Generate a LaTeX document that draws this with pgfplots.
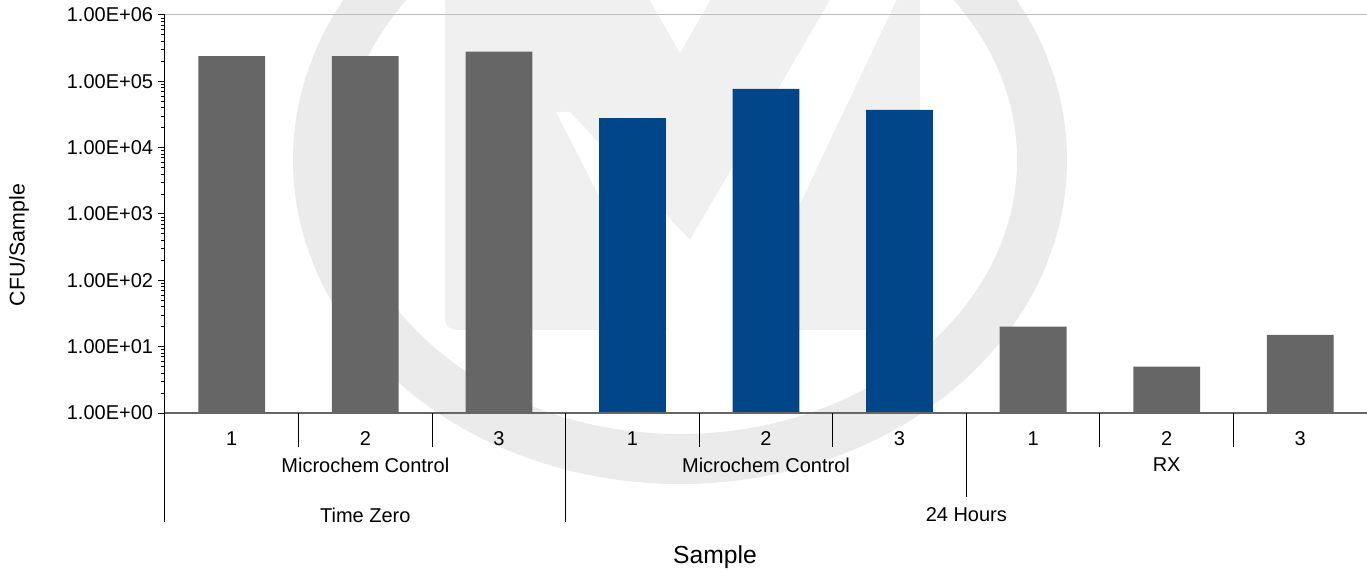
\documentclass[border=0pt]{standalone}
\usepackage{fontspec}
\setmainfont{Liberation Sans}
\usepackage{pgfplots}
\pgfplotsset{compat=1.18}

\definecolor{bargray}{RGB}{102,102,102}
\definecolor{barblue}{RGB}{0,70,136}
\definecolor{framegray}{RGB}{190,190,190}
\definecolor{wring}{RGB}{235,235,235}
\definecolor{wsquare}{RGB}{240,240,240}

\pgfdeclarelayer{background}
\pgfsetlayers{background,main}

% 1 px of the reference = 0.75pt
\newcommand{\lbl}{\fontsize{15}{18}\selectfont}

\begin{document}
\begin{tikzpicture}
\begin{axis}[
    scale only axis,
    width=901.5pt, height=298.5pt,
    xmin=0.5, xmax=9.5,
    ymode=log, ymin=1, ymax=1e6,
    axis line style={draw=none},
    xtick=\empty,
    ytick={1,10,100,1000,10000,100000,1000000},
    yticklabels={1.00E+00,1.00E+01,1.00E+02,1.00E+03,1.00E+04,1.00E+05,1.00E+06},
    ytick pos=left,
    tick align=outside,
    major tick length=5.25pt,
    minor tick num=0,
    y tick style={black, line width=0.75pt},
    yticklabel style={font=\lbl, anchor=east, inner sep=0pt, xshift=-3.5pt},
    /pgf/number format/assume math mode=true,
    clip=false,
]
\addplot[ybar, bar width=0.5, bar shift=0pt, fill=bargray, draw=none]
    coordinates {(1,2.4e5) (2,2.4e5) (3,2.8e5)};
\addplot[ybar, bar width=0.5, bar shift=0pt, fill=barblue, draw=none]
    coordinates {(4,2.8e4) (5,7.7e4) (6,3.7e4)};
\addplot[ybar, bar width=0.5, bar shift=0pt, fill=bargray, draw=none]
    coordinates {(7,20) (8,5) (9,15)};

\coordinate (O) at (rel axis cs:0,0);

% frame
\draw[framegray, line width=0.75pt] (rel axis cs:0,1) -- (rel axis cs:1,1) -- (rel axis cs:1,0);
\draw[bargray, line width=1pt] (rel axis cs:0,0) -- (rel axis cs:1,0);
\draw[black, line width=0.75pt] (rel axis cs:0,0) -- (rel axis cs:0,1);

% category separators
\pgfplotsinvokeforeach{1.5,2.5,4.5,5.5,7.5,8.5}{
    \draw[black, line width=0.75pt] (axis cs:#1,1) -- ([yshift=-25.5pt]axis cs:#1,1);
}
\pgfplotsinvokeforeach{0.5,3.5,9.5}{
    \draw[black, line width=0.75pt] (axis cs:#1,1) -- ([yshift=-81.75pt]axis cs:#1,1);
}
\draw[black, line width=0.75pt] (axis cs:6.5,1) -- ([yshift=-63pt]axis cs:6.5,1);

% level 1
\pgfplotsinvokeforeach{1,4,7}{
    \node[font=\lbl, anchor=center] at ([yshift=-19.5pt]axis cs:#1,1) {1};
}
\pgfplotsinvokeforeach{2,5,8}{
    \node[font=\lbl, anchor=center] at ([yshift=-19.5pt]axis cs:#1,1) {2};
}
\pgfplotsinvokeforeach{3,6,9}{
    \node[font=\lbl, anchor=center] at ([yshift=-19.5pt]axis cs:#1,1) {3};
}
% level 2
\node[font=\lbl] at ([yshift=-39pt]axis cs:2,1) {Microchem Control};
\node[font=\lbl] at ([yshift=-39pt]axis cs:5,1) {Microchem Control};
\node[font=\lbl] at ([yshift=-39pt]axis cs:8,1) {RX};
% level 3
\node[font=\lbl] at ([yshift=-76.5pt]axis cs:2,1) {Time Zero};
\node[font=\lbl] at ([yshift=-76.5pt]axis cs:6.5,1) {24 Hours};
\end{axis}

% axis titles
\node[font=\fontsize{18.5}{22}\selectfont, anchor=base] at ([xshift=412.5pt, yshift=-112.5pt]O) {Sample};
\node[font=\fontsize{16}{19}\selectfont, rotate=90] at ([xshift=-109.5pt, yshift=126pt]O) {CFU/Sample};

% faint watermark behind everything (reference pixel units)
\begin{pgfonlayer}{background}
\begin{scope}[x=0.75pt, y=-0.75pt, shift={(O)}, shift={(-165,-413)}]
    \draw[wring, line width=37.5pt] (680,160) ellipse [x radius=362, y radius=299];
    \fill[wsquare, rounded corners=8pt] (445,-60) -- (445,330) -- (920,330) -- (920,-60) -- cycle;
    \fill[white] (556,112) -- (570,112) -- (690,240) -- (865,-60) -- (925,-60)
        -- (740,330) -- (668,330) -- cycle;
    \fill[white] (647,-5) -- (713,-5) -- (680,53) -- cycle;
\end{scope}
\end{pgfonlayer}

\pgfresetboundingbox
\path (O) ++(-123.75pt,-118.5pt) rectangle ++(1025.25pt,428.25pt);
\end{tikzpicture}
\end{document}
